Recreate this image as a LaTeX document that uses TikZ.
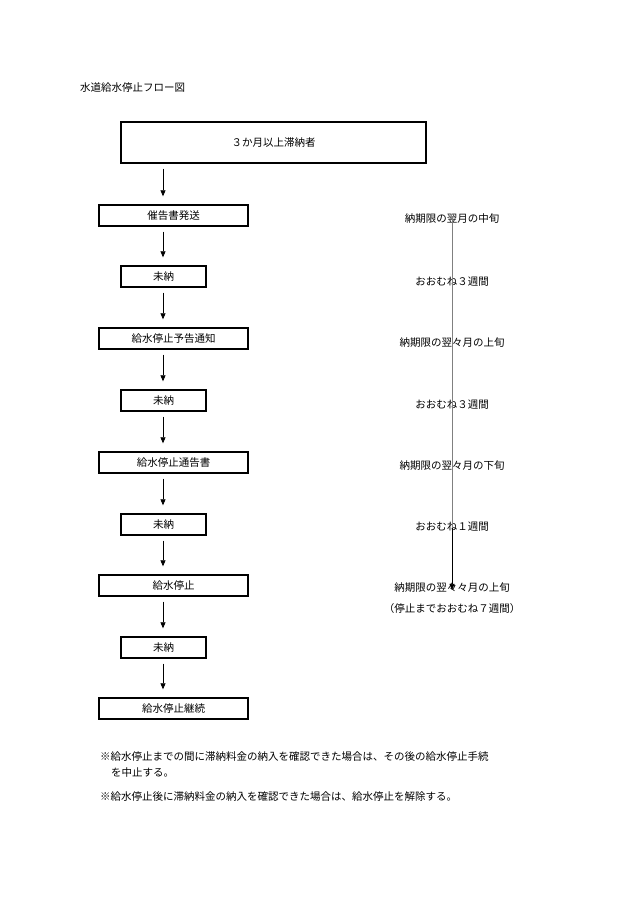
\documentclass[tikz,border=0pt]{standalone}
\usepackage{fontspec}
\setmainfont{Noto Sans CJK JP}
\usetikzlibrary{arrows.meta}
\newcommand{\lw}[1]{\raisebox{-4pt}{#1}}
\begin{document}
\begin{tikzpicture}[x=1pt,y=-1pt,font=\fontsize{10.5}{12}\selectfont,
  box/.style={draw,line width=1.4pt,inner sep=0pt,minimum height=21pt},
  wide/.style={box,minimum width=149pt},
  small/.style={box,minimum width=85pt},
  arr/.style={-{Triangle[length=6pt,width=5pt]},line width=0.7pt},
  gl/.style={draw=gray,line width=0.7pt},
  rt/.style={inner sep=0pt}]
\useasboundingbox (0,0) rectangle (630,903);
\node[anchor=west,inner sep=0pt] (title) at (80,88) {水道給水停止フロー図};
\node[box,minimum width=305pt,minimum height=41pt] (b0) at (273.5,142.5) {\lw{３か月以上滞納者}};
\node[wide] (b1) at (173.5,215.5) {\lw{催告書発送}};
\node[small] (b2) at (163.5,276.5) {\lw{未納}};
\node[wide] (b3) at (173.5,338.5) {\lw{給水停止予告通知}};
\node[small] (b4) at (163.5,400.5) {\lw{未納}};
\node[wide] (b5) at (173.5,462.5) {\lw{給水停止通告書}};
\node[small] (b6) at (163.5,524.5) {\lw{未納}};
\node[wide] (b7) at (173.5,585.5) {\lw{給水停止}};
\node[small] (b8) at (163.5,647.5) {\lw{未納}};
\node[wide] (b9) at (173.5,708.5) {\lw{給水停止継続}};
\foreach \a/\b in {b0/b1,b1/b2,b2/b3,b3/b4,b4/b5,b5/b6,b6/b7,b7/b8,b8/b9}{
  \draw[arr] ([yshift=-5pt]\a.south -| 163,0) -- ([yshift=8pt]\b.north -| 163,0);
}
\node[rt] (r1) at (452,219) {納期限の翌月の中旬};
\node[rt] (r2) at (452,282) {おおむね３週間};
\node[rt] (r3) at (452,343) {納期限の翌々月の上旬};
\node[rt] (r4) at (452,405) {おおむね３週間};
\node[rt] (r5) at (452,466) {納期限の翌々月の下旬};
\node[rt] (r6) at (452,527) {おおむね１週間};
\node[rt] (r7) at (452,588) {納期限の翌々々月の上旬};
\node[rt] (r8) at (452,609) {（停止までおおむね７週間）};
\draw[gl] ([yshift=8pt]r1.south) -- ([yshift=-18pt]r2.north);
\draw[gl] ([yshift=4pt]r2.south) -- ([yshift=-18pt]r3.north);
\draw[gl] ([yshift=8pt]r3.south) -- ([yshift=-18pt]r4.north);
\draw[gl] ([yshift=4pt]r4.south) -- ([yshift=-18pt]r5.north);
\draw[gl] ([yshift=8pt]r5.south) -- ([yshift=-18pt]r6.north);
\draw[arr] ([yshift=4pt]r6.south) -- ([yshift=-7pt]r7.north);
\node[anchor=west,inner sep=0pt] (n1) at (100,757) {※給水停止までの間に滞納料金の納入を確認できた場合は、その後の給水停止手続};
\node[anchor=west,inner sep=0pt] (n1b) at (111,772) {を中止する。};
\node[anchor=west,inner sep=0pt] (n2) at (100,797) {※給水停止後に滞納料金の納入を確認できた場合は、給水停止を解除する。};
\end{tikzpicture}
\end{document}
